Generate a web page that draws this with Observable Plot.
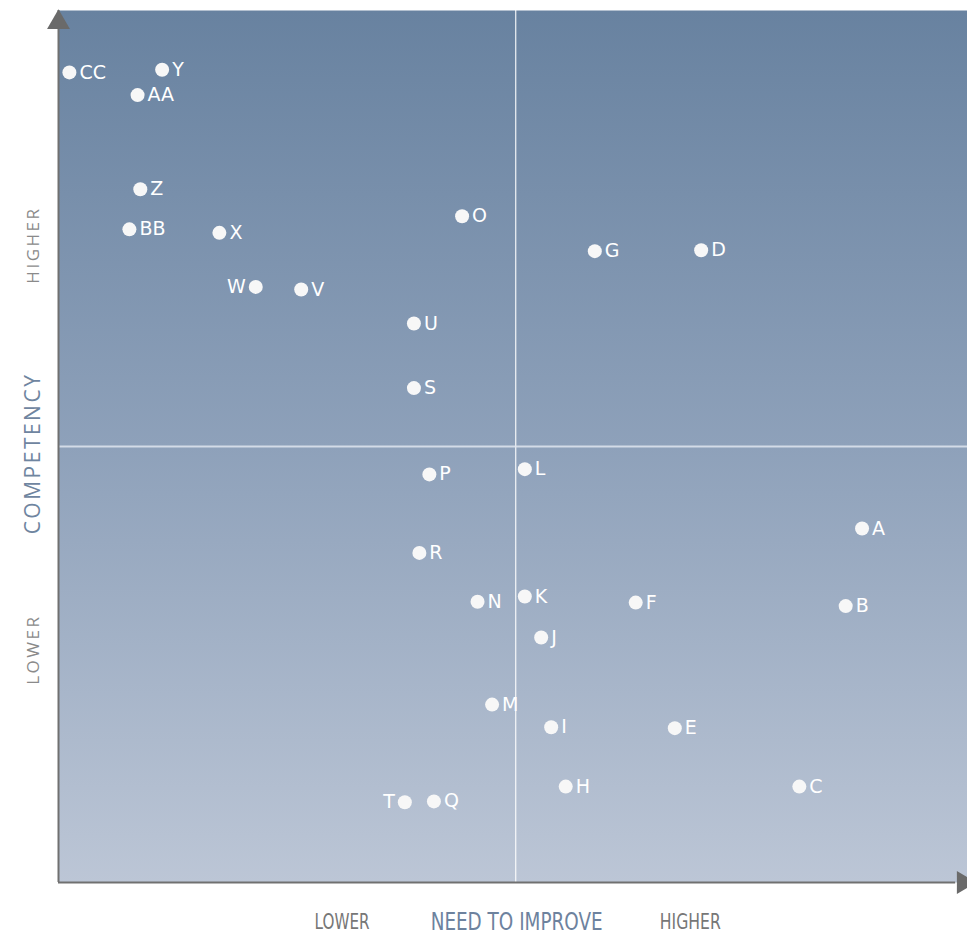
<!DOCTYPE html>
<html>
<head>
<meta charset="utf-8">
<script src="https://cdn.jsdelivr.net/npm/d3@7"></script>
<script src="https://cdn.jsdelivr.net/npm/@observablehq/plot@0.6"></script>
<style>
  html, body { margin: 0; padding: 0; background: #fff; overflow: hidden; }
  svg { display: block; }
</style>
</head>
<body>
<div id="chart"></div>
<script>
// Point labels, positions (need to improve, competency) on a 0–100 scale, label side
const names = ["CC","Y","AA","Z","BB","X","O","G","D","W","V","U","S","P","L","A","R","N","K","F","B","J","M","I","E","H","C","T","Q"];
const improve = [1.2,11.4,8.7,9.0,7.8,17.7,44.4,59.0,70.7,21.7,26.7,39.1,39.1,40.8,51.3,88.4,39.7,46.1,51.3,63.5,86.6,53.1,47.7,54.2,67.8,55.8,81.5,38.1,41.3];
const competency = [92.9,93.2,90.3,79.5,74.9,74.5,76.4,72.4,72.5,68.3,68.0,64.1,56.7,46.8,47.4,40.6,37.8,32.2,32.8,32.1,31.7,28.1,20.4,17.8,17.7,11.0,11.0,9.2,9.3];
const labelSide = ["right","right","right","right","right","right","right","right","right","left","right","right","right","right","right","right","right","right","right","right","right","right","right","right","right","right","right","left","right"];

const xMid = 50.3, yMid = 50.0;
const xAxisLabels = ["LOWER", "NEED TO IMPROVE", "HIGHER"];
const xAxisLabelPos = [31.2, 50.4, 69.5];
const xAxisLabelWidth = [55, 172, 61];
const yAxisLabels = ["HIGHER", "COMPETENCY", "LOWER"];
const yAxisLabelPos = [73.1, 49.2, 26.7];

const points = names.map((n, i) => ({name: n, x: improve[i], y: competency[i], side: labelSide[i]}));
const xLab = xAxisLabels.map((t, i) => ({t, x: xAxisLabelPos[i], w: xAxisLabelWidth[i], main: i === 1}));
const yLab = yAxisLabels.map((t, i) => ({t, y: yAxisLabelPos[i], main: i === 1}));

const labelFont = "'DejaVu Sans', sans-serif";

const chart = Plot.plot({
  width: 967,
  height: 935,
  marginLeft: 58,
  marginRight: 0,
  marginTop: 10,
  marginBottom: 53,
  x: {domain: [0, 100], axis: null},
  y: {domain: [0, 100], axis: null},
  style: {background: "#fff", overflow: "visible"},
  marks: [
    Plot.frame({fill: "url(#bgGrad)", stroke: "none"}),
    Plot.ruleX([xMid], {stroke: "#ffffff", strokeWidth: 1.2, strokeOpacity: 0.9}),
    Plot.ruleY([yMid], {stroke: "#dfe5ee", strokeWidth: 2, strokeOpacity: 0.85}),
    Plot.ruleX([0], {y1: 0, y2: 100, stroke: "#707070", strokeWidth: 2}),
    Plot.ruleY([0], {x1: 0, x2: 98.7, stroke: "#707070", strokeWidth: 2}),
    Plot.dot([0], {x: () => 0, y: () => 100, symbol: "triangle", r: 8.5, fill: "#6a6a6a", stroke: "none", dy: 12}),
    Plot.dot([0], {x: () => 100, y: () => 0, symbol: "triangle", r: 8.5, fill: "#6a6a6a", stroke: "none", rotate: 90, dx: -4}),
    Plot.dot(points, {x: "x", y: "y", r: 7, fill: "#f7f7f7", stroke: "none"}),
    Plot.text(points.filter(d => d.side === "right"), {x: "x", y: "y", text: "name", dx: 10, textAnchor: "start", fill: "#ffffff", fontSize: 19, fontWeight: 500, fontFamily: labelFont}),
    Plot.text(points.filter(d => d.side === "left"), {x: "x", y: "y", text: "name", dx: -10, textAnchor: "end", fill: "#ffffff", fontSize: 19, fontWeight: 500, fontFamily: labelFont}),
    Plot.text(xLab, {x: "x", y: () => 0, text: "t", dy: 39, fill: d => d.main ? "#6d829e" : "#777777", fontSize: d => d.main ? 25 : 22, fontFamily: labelFont, className: "xlab"}),
    Plot.text(yLab, {x: () => 0, y: "y", text: "t", dx: -25, rotate: -90, fill: d => d.main ? "#6f85a0" : "#8a8a8a", fontSize: d => d.main ? 21 : 17, fontFamily: "'Open Sans', 'Noto Sans', sans-serif", className: "ylab"})
  ]
});

d3.select(chart).insert("defs", ":first-child").html(
  `<linearGradient id="bgGrad" x1="0" y1="0" x2="0" y2="1">
     <stop offset="0%" stop-color="#6882a0"/>
     <stop offset="50%" stop-color="#8ea1ba"/>
     <stop offset="100%" stop-color="#bcc6d6"/>
   </linearGradient>`
);
d3.select(chart).selectAll(".ylab text").style("letter-spacing", "2.5px");
// condensed look for the bottom labels: fit each to its measured width
d3.select(chart).selectAll(".xlab text").each(function(_, i) {
  this.setAttribute("textLength", xLab[i].w);
  this.setAttribute("lengthAdjust", "spacingAndGlyphs");
});

document.getElementById("chart").appendChild(chart);
</script>
</body>
</html>
